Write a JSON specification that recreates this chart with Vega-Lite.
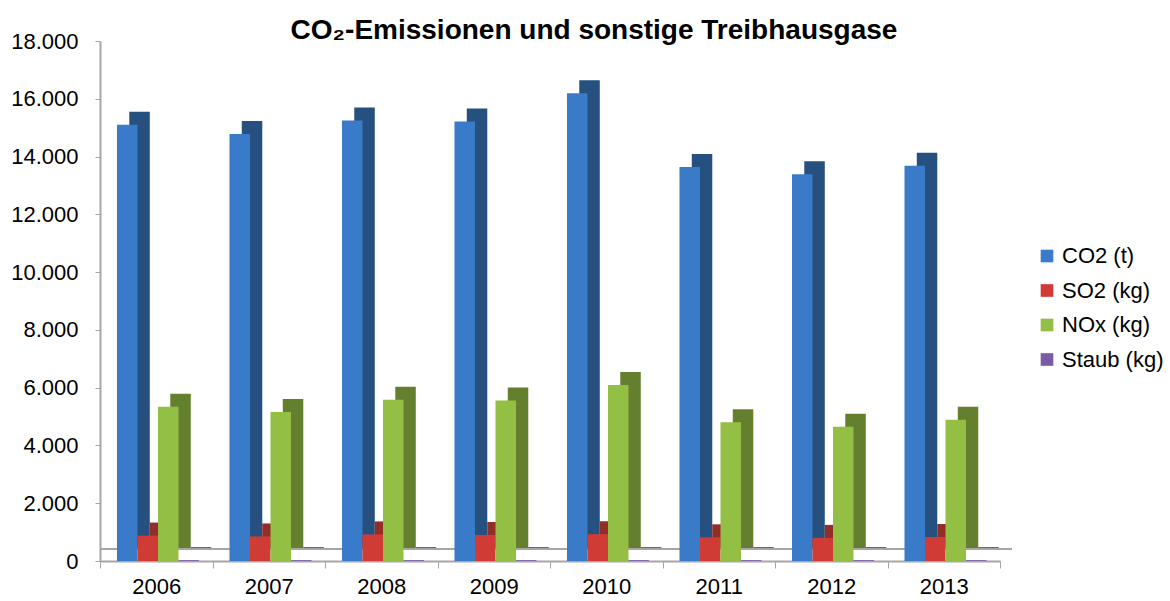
{
  "$schema": "https://vega.github.io/schema/vega-lite/v6.json",
  "width": 900,
  "height": 520,
  "autosize": {"type": "none"},
  "padding": {"left": 100, "top": 41, "right": 170, "bottom": 40},
  "background": "white",
  "title": {"text": "CO₂-Emissionen und sonstige Treibhausgase", "font": "Liberation Sans", "fontSize": 28, "fontWeight": "bold", "color": "black", "dx": 44, "offset": -15},
  "data": {"values": [
    {"Jahr": "2006", "Serie": "CO2 (t)", "Wert": 15100},
    {"Jahr": "2007", "Serie": "CO2 (t)", "Wert": 14780},
    {"Jahr": "2008", "Serie": "CO2 (t)", "Wert": 15250},
    {"Jahr": "2009", "Serie": "CO2 (t)", "Wert": 15210},
    {"Jahr": "2010", "Serie": "CO2 (t)", "Wert": 16190},
    {"Jahr": "2011", "Serie": "CO2 (t)", "Wert": 13640},
    {"Jahr": "2012", "Serie": "CO2 (t)", "Wert": 13390},
    {"Jahr": "2013", "Serie": "CO2 (t)", "Wert": 13680},
    {"Jahr": "2006", "Serie": "SO2 (kg)", "Wert": 880},
    {"Jahr": "2007", "Serie": "SO2 (kg)", "Wert": 850},
    {"Jahr": "2008", "Serie": "SO2 (kg)", "Wert": 920},
    {"Jahr": "2009", "Serie": "SO2 (kg)", "Wert": 900},
    {"Jahr": "2010", "Serie": "SO2 (kg)", "Wert": 930},
    {"Jahr": "2011", "Serie": "SO2 (kg)", "Wert": 820},
    {"Jahr": "2012", "Serie": "SO2 (kg)", "Wert": 800},
    {"Jahr": "2013", "Serie": "SO2 (kg)", "Wert": 830},
    {"Jahr": "2006", "Serie": "NOx (kg)", "Wert": 5340},
    {"Jahr": "2007", "Serie": "NOx (kg)", "Wert": 5160},
    {"Jahr": "2008", "Serie": "NOx (kg)", "Wert": 5580},
    {"Jahr": "2009", "Serie": "NOx (kg)", "Wert": 5560},
    {"Jahr": "2010", "Serie": "NOx (kg)", "Wert": 6090},
    {"Jahr": "2011", "Serie": "NOx (kg)", "Wert": 4800},
    {"Jahr": "2012", "Serie": "NOx (kg)", "Wert": 4650},
    {"Jahr": "2013", "Serie": "NOx (kg)", "Wert": 4890},
    {"Jahr": "2006", "Serie": "Staub (kg)", "Wert": 30},
    {"Jahr": "2007", "Serie": "Staub (kg)", "Wert": 30},
    {"Jahr": "2008", "Serie": "Staub (kg)", "Wert": 30},
    {"Jahr": "2009", "Serie": "Staub (kg)", "Wert": 30},
    {"Jahr": "2010", "Serie": "Staub (kg)", "Wert": 30},
    {"Jahr": "2011", "Serie": "Staub (kg)", "Wert": 30},
    {"Jahr": "2012", "Serie": "Staub (kg)", "Wert": 30},
    {"Jahr": "2013", "Serie": "Staub (kg)", "Wert": 30}
  ]},
  "layer": [
    {
      "mark": {"type": "rule", "color": "#A6A6A6", "strokeWidth": 2, "xOffset": 12, "yOffset": -12},
      "encoding": {"y": {"datum": 0, "type": "quantitative"}}
    },
    {
      "mark": {"type": "bar", "yOffset": -13},
      "encoding": {
        "x": {"field": "Jahr", "type": "nominal", "scale": {"paddingInner": 0, "paddingOuter": 0}},
        "xOffset": {"field": "Serie", "type": "nominal", "sort": ["CO2 (t)", "SO2 (kg)", "NOx (kg)", "Staub (kg)"], "scale": {"paddingOuter": 0.744, "paddingInner": 0, "align": 0.96}},
        "y": {"field": "Wert", "type": "quantitative"},
        "color": {"field": "Serie", "type": "nominal", "legend": null,
          "scale": {"domain": ["CO2 (t)", "SO2 (kg)", "NOx (kg)", "Staub (kg)"], "range": ["#25507F", "#922D28", "#64802F", "#5C4181"]}}
      }
    },
    {
      "mark": {"type": "bar"},
      "encoding": {
        "x": {"field": "Jahr", "type": "nominal", "title": null,
          "axis": {"labelAngle": 0, "labelAlign": "center", "tickBand": "extent", "tickSize": 7, "tickColor": "#A6A6A6", "domainColor": "#A6A6A6", "domainWidth": 2, "labelFontSize": 22, "labelFont": "Liberation Sans", "labelColor": "black", "labelPadding": 18}},
        "xOffset": {"field": "Serie", "type": "nominal", "sort": ["CO2 (t)", "SO2 (kg)", "NOx (kg)", "Staub (kg)"], "scale": {"paddingOuter": 0.744, "paddingInner": 0, "align": 0.557}},
        "y": {"field": "Wert", "type": "quantitative", "title": null,
          "scale": {"domain": [0, 18000], "nice": false},
          "axis": {"values": [0, 2000, 4000, 6000, 8000, 10000, 12000, 14000, 16000, 18000], "grid": false, "tickSize": 5, "tickColor": "#A6A6A6", "domainColor": "#A6A6A6", "domainWidth": 2, "labelFontSize": 22, "labelFont": "Liberation Sans", "labelColor": "black", "labelPadding": 17,
            "labelExpr": "replace(format(datum.value, ',.0f'), ',', '.')"}},
        "color": {"field": "Serie", "type": "nominal",
          "scale": {"domain": ["CO2 (t)", "SO2 (kg)", "NOx (kg)", "Staub (kg)"], "range": ["#3A7BC9", "#D03B35", "#94BF45", "#7A5BA8"]},
          "legend": {"title": null, "orient": "none", "legendX": 936, "legendY": 204, "symbolType": "square", "symbolSize": 160, "symbolStrokeWidth": 0, "labelFontSize": 22, "labelFont": "Liberation Sans", "labelColor": "black", "rowPadding": 12.5, "labelOffset": 4}}
      }
    }
  ],
  "resolve": {"scale": {"color": "independent", "xOffset": "independent"}},
  "config": {"view": {"stroke": null}}
}
